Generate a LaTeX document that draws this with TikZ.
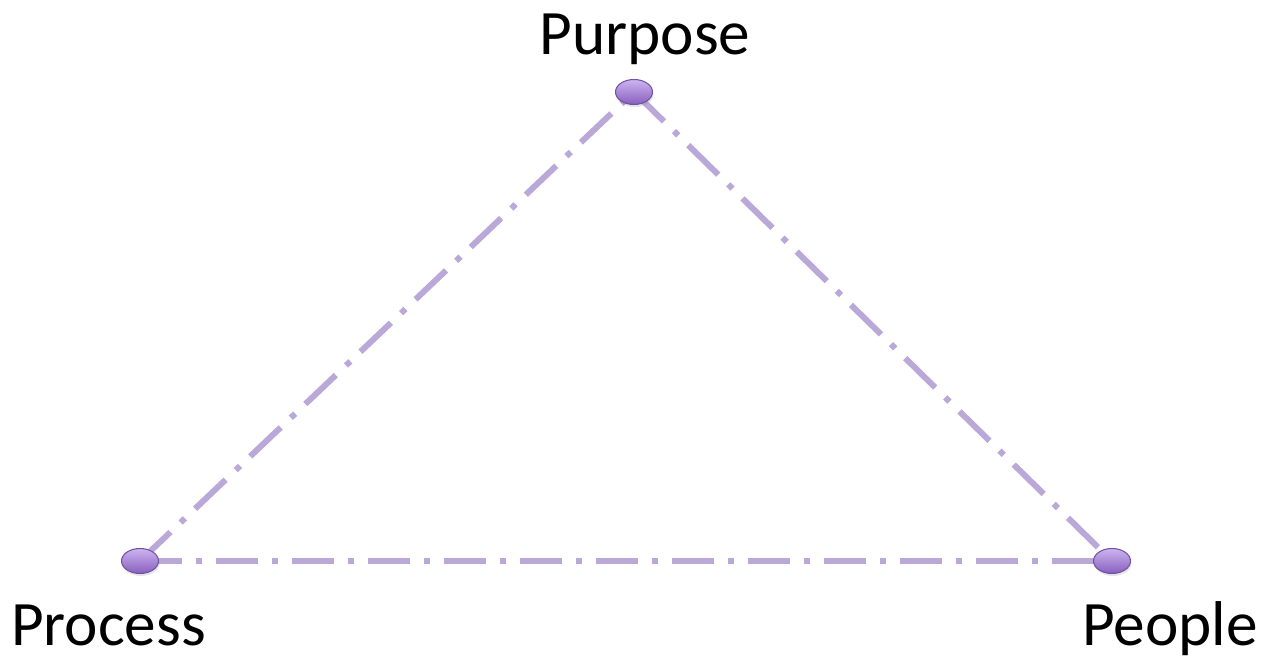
\documentclass[tikz,border=0pt]{standalone}
\usepackage{fontspec}
\setmainfont{Carlito}
\usepackage{tikz}
\usetikzlibrary{shapes.geometric, positioning, backgrounds, shadows}
\definecolor{edgeline}{RGB}{186, 168, 216}
\definecolor{dottop}{RGB}{205, 180, 240}
\definecolor{dotbot}{RGB}{135, 95, 190}
\definecolor{dotrim}{RGB}{112, 82, 165}

\begin{document}
\begin{tikzpicture}[
  dot/.style={ellipse, draw=dotrim, line width=0.6pt, top color=dottop, bottom color=dotbot,
    minimum width=0.74cm, minimum height=0.5cm, inner sep=0pt,
    drop shadow={opacity=0.2, shadow xshift=0.02cm, shadow yshift=-0.05cm}},
  lbl/.style={font=\fontsize{36}{42}\selectfont, inner sep=0pt, anchor=base},
  link/.style={draw=edgeline, line width=0.12cm,
    dash pattern=on 0.84cm off 0.28cm on 0.12cm off 0.28cm}
]
\useasboundingbox (0,0) rectangle (25.3,13.18);
\node[dot] (purp) at (12.68,11.34) {};
\node[dot] (proc) at (2.8,1.96) {};
\node[dot] (peop) at (22.24,1.96) {};
\node[lbl] (purpose) at ([shift={(0.22,0.74)}]purp.center) {Purpose};
\node[lbl] (process) at ([shift={(-0.63,-1.68)}]proc.center) {Process};
\node[lbl] (people) at ([shift={(1.16,-1.68)}]peop.center) {People};
\begin{scope}[on background layer]
  \draw[link] (proc.center) -- (purp.center);
  \draw[link] (purp.center) -- (peop.center);
  \draw[link] (proc.center) -- (peop.center);
\end{scope}
\end{tikzpicture}
\end{document}
